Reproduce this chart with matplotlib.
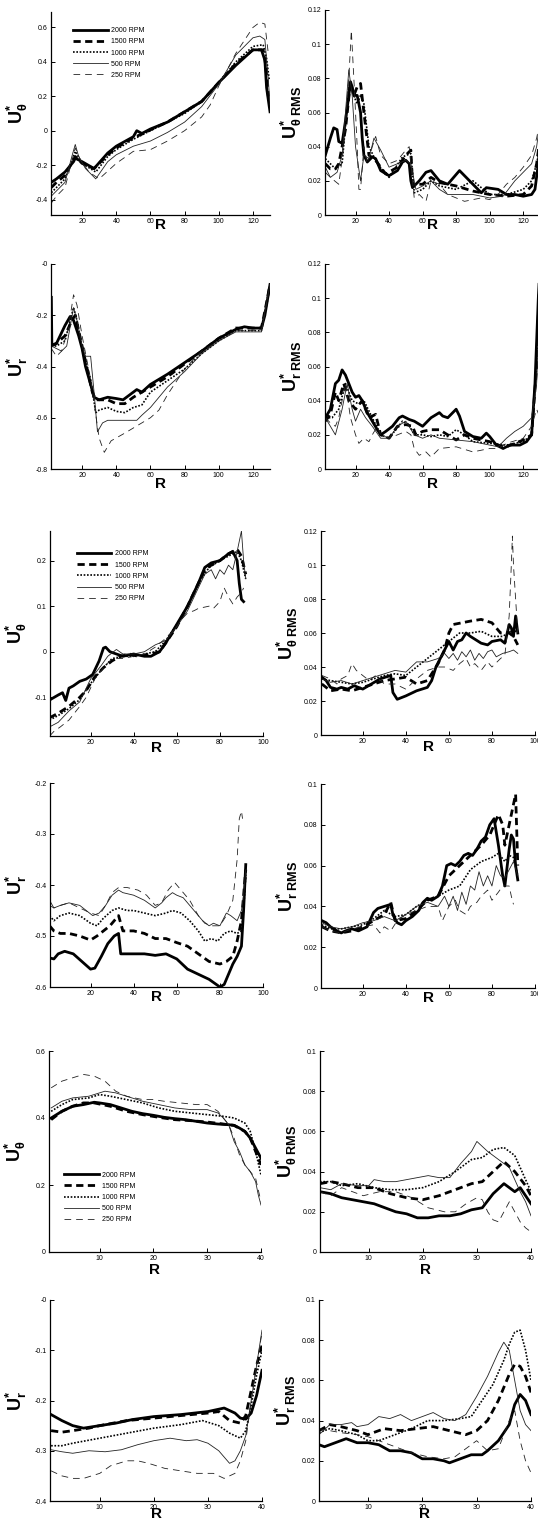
import numpy as np
import matplotlib
matplotlib.use('Agg')
import matplotlib.pyplot as plt
from matplotlib.ticker import FuncFormatter

plt.rcParams['font.family'] = ['Liberation Sans', 'DejaVu Sans']
plt.rcParams['mathtext.fontset'] = 'custom'
plt.rcParams['mathtext.rm'] = 'Liberation Sans'
plt.rcParams['mathtext.it'] = 'Liberation Sans:italic'
plt.rcParams['mathtext.bf'] = 'Liberation Sans:bold'
plt.rcParams['axes.unicode_minus'] = False

rpm = ['2000 RPM', '1500 RPM', '1000 RPM', '500 RPM', '250 RPM']

# ---- case A (R up to 130) ----
uthA_2000 = [(2, -0.30), (5, -0.28), (10, -0.24), (15, -0.18), (16, -0.16), (20, -0.18), (27, -0.22),
             (35, -0.13), (40, -0.09), (50, -0.035), (52, 0.0), (55, -0.016), (60, 0.01), (70, 0.05),
             (80, 0.11), (90, 0.17), (100, 0.28), (110, 0.38), (120, 0.47), (125, 0.47), (127, 0.41),
             (128, 0.25), (130, 0.11)]
uthA_1500 = [(2, -0.33), (5, -0.30), (10, -0.26), (16, -0.15), (20, -0.19), (27, -0.22), (35, -0.14),
             (40, -0.10), (50, -0.04), (55, -0.02), (60, 0.005), (70, 0.05), (80, 0.11), (90, 0.17),
             (100, 0.28), (110, 0.39), (120, 0.47), (126, 0.47), (127.5, 0.38), (129, 0.2)]
uthA_1000 = [(2, -0.36), (5, -0.33), (10, -0.28), (16, -0.12), (20, -0.19), (28, -0.24), (35, -0.15),
             (40, -0.11), (50, -0.05), (60, 0.0), (70, 0.05), (80, 0.10), (90, 0.17), (100, 0.28),
             (110, 0.40), (120, 0.49), (126, 0.50), (128, 0.42), (129.5, 0.3)]
uthA_500 = [(2, -0.38), (5, -0.35), (10, -0.30), (14, -0.15), (16, -0.08), (18, -0.15), (22, -0.22),
            (28, -0.28), (35, -0.18), (40, -0.14), (50, -0.09), (60, -0.06), (70, -0.01), (80, 0.05),
            (90, 0.14), (100, 0.27), (110, 0.44), (120, 0.54), (124, 0.55), (127, 0.53), (129, 0.3),
            (130, 0.15)]
uthA_250 = [(2, -0.42), (5, -0.38), (10, -0.33), (16, -0.10), (19, -0.17), (24, -0.24), (30, -0.28),
            (40, -0.19), (50, -0.12), (60, -0.11), (70, -0.06), (80, 0.0), (90, 0.08), (95, 0.15),
            (100, 0.26), (110, 0.45), (120, 0.60), (124, 0.63), (127, 0.62), (129, 0.45)]

uthrmsA_2000 = [(2, 0.035), (5, 0.045), (7, 0.051), (9, 0.05), (10, 0.043), (12, 0.042), (14, 0.055),
                (16, 0.07), (17, 0.078), (18, 0.075), (19, 0.07), (21, 0.07), (23, 0.06), (24, 0.045),
                (25, 0.035), (27, 0.031), (30, 0.034), (32, 0.033), (35, 0.026), (40, 0.023), (45, 0.026),
                (48, 0.031), (50, 0.032), (52, 0.030), (53, 0.020), (54, 0.016), (58, 0.02), (62, 0.025),
                (65, 0.026), (70, 0.02), (75, 0.018), (82, 0.026), (88, 0.02), (92, 0.016), (95, 0.013),
                (98, 0.016), (105, 0.015), (110, 0.012), (115, 0.012), (120, 0.011), (125, 0.012),
                (127, 0.015), (129, 0.03), (130, 0.045)]
uthrmsA_1500 = [(2, 0.030), (5, 0.027), (8, 0.027), (10, 0.03), (14, 0.05), (17, 0.078), (19, 0.07),
                (21, 0.075), (23, 0.077), (25, 0.06), (28, 0.035), (32, 0.032), (38, 0.024), (45, 0.028),
                (50, 0.035), (53, 0.038), (54, 0.018), (60, 0.018), (65, 0.022), (70, 0.019), (80, 0.017),
                (90, 0.014), (100, 0.012), (110, 0.011), (120, 0.012), (125, 0.017), (128, 0.03),
                (130, 0.045)]
uthrmsA_1000 = [(2, 0.033), (8, 0.027), (12, 0.03), (16, 0.075), (18, 0.072), (21, 0.065), (23, 0.07),
                (25, 0.065), (28, 0.04), (33, 0.03), (40, 0.022), (48, 0.034), (53, 0.036), (55, 0.013),
                (60, 0.015), (65, 0.02), (70, 0.017), (80, 0.015), (90, 0.02), (100, 0.012), (110, 0.012),
                (120, 0.015), (125, 0.02), (128, 0.03), (130, 0.04)]
uthrmsA_500 = [(2, 0.028), (5, 0.022), (9, 0.025), (12, 0.035), (16, 0.085), (18, 0.07), (20, 0.04),
               (23, 0.02), (25, 0.035), (28, 0.033), (31, 0.045), (35, 0.038), (40, 0.028), (45, 0.03),
               (50, 0.032), (53, 0.03), (56, 0.015), (60, 0.017), (65, 0.02), (70, 0.015), (75, 0.012),
               (80, 0.012), (90, 0.012), (100, 0.01), (108, 0.011), (115, 0.02), (120, 0.025),
               (125, 0.03), (128, 0.04), (130, 0.055)]
uthrmsA_250 = [(2, 0.025), (5, 0.022), (10, 0.018), (13, 0.04), (16, 0.08), (17.5, 0.108), (19, 0.08),
               (21, 0.04), (22, 0.015), (23, 0.015), (25, 0.04), (27, 0.03), (30, 0.04), (32, 0.046),
               (35, 0.035), (40, 0.03), (45, 0.032), (50, 0.038), (52, 0.04), (55, 0.01), (58, 0.012),
               (62, 0.008), (65, 0.02), (70, 0.018), (75, 0.012), (85, 0.008), (95, 0.01), (100, 0.009),
               (105, 0.012), (110, 0.018), (115, 0.022), (120, 0.028), (125, 0.035), (128, 0.045),
               (130, 0.055)]

urA_2000 = [(2, -0.13), (2.3, -0.316), (5, -0.31), (10, -0.24), (13, -0.205), (15, -0.22), (18, -0.28),
            (20, -0.33), (22, -0.40), (25, -0.47), (27, -0.52), (30, -0.53), (35, -0.52), (40, -0.525),
            (44, -0.53), (48, -0.51), (52, -0.49), (55, -0.50), (60, -0.47), (70, -0.43), (80, -0.385),
            (90, -0.34), (100, -0.29), (110, -0.255), (115, -0.245), (120, -0.25), (125, -0.25),
            (127, -0.20), (129, -0.12), (130, -0.08)]
urA_1500 = [(2, -0.32), (5, -0.31), (10, -0.28), (14, -0.22), (16, -0.20), (18, -0.26), (22, -0.38),
            (26, -0.50), (28, -0.53), (35, -0.53), (40, -0.545), (45, -0.545), (50, -0.52), (55, -0.50),
            (60, -0.48), (70, -0.44), (80, -0.39), (90, -0.34), (100, -0.29), (110, -0.25), (120, -0.25),
            (125, -0.25), (128, -0.15), (130, -0.08)]
urA_1000 = [(2, -0.32), (5, -0.32), (10, -0.30), (15, -0.17), (17, -0.22), (20, -0.33), (25, -0.45),
            (28, -0.58), (30, -0.57), (35, -0.56), (40, -0.575), (45, -0.58), (50, -0.56), (55, -0.55),
            (60, -0.50), (70, -0.455), (80, -0.41), (90, -0.35), (100, -0.30), (110, -0.26), (120, -0.26),
            (125, -0.26), (128, -0.15), (130, -0.08)]
urA_500 = [(2, -0.32), (5, -0.33), (8, -0.34), (11, -0.32), (15, -0.17), (17, -0.22), (20, -0.32),
           (22, -0.36), (25, -0.36), (27, -0.50), (29, -0.655), (32, -0.62), (35, -0.61), (45, -0.61),
           (52, -0.61), (55, -0.59), (60, -0.56), (65, -0.52), (70, -0.48), (80, -0.42), (90, -0.35),
           (100, -0.30), (110, -0.265), (120, -0.265), (125, -0.265), (128, -0.15), (130, -0.08)]
urA_250 = [(2, -0.33), (5, -0.36), (8, -0.34), (12, -0.25), (15, -0.12), (17, -0.16), (20, -0.28),
           (25, -0.45), (30, -0.68), (33, -0.735), (37, -0.69), (45, -0.66), (55, -0.62), (60, -0.60),
           (65, -0.57), (70, -0.51), (75, -0.46), (80, -0.41), (90, -0.34), (100, -0.30), (110, -0.26),
           (120, -0.26), (125, -0.26), (128, -0.15), (130, -0.08)]

urrmsA_2000 = [(2, 0.030), (5, 0.035), (8, 0.05), (10, 0.052), (12, 0.058), (14, 0.055), (16, 0.05),
               (18, 0.045), (20, 0.042), (22, 0.043), (24, 0.04), (27, 0.033), (30, 0.028), (33, 0.023),
               (35, 0.02), (38, 0.022), (42, 0.025), (46, 0.03), (48, 0.031), (52, 0.029), (55, 0.028),
               (60, 0.025), (65, 0.03), (70, 0.033), (72, 0.031), (75, 0.03), (78, 0.033), (80, 0.035),
               (82, 0.031), (85, 0.022), (90, 0.019), (95, 0.018), (98, 0.021), (100, 0.019),
               (104, 0.014), (108, 0.012), (112, 0.014), (118, 0.014), (122, 0.016), (125, 0.02),
               (127, 0.05), (129, 0.1), (130, 0.12)]
urrmsA_1500 = [(2, 0.028), (5, 0.032), (8, 0.045), (10, 0.04), (13, 0.05), (16, 0.04), (20, 0.035),
               (24, 0.04), (28, 0.03), (32, 0.032), (35, 0.02), (40, 0.018), (45, 0.025), (50, 0.026),
               (54, 0.025), (56, 0.02), (60, 0.022), (65, 0.023), (70, 0.023), (75, 0.02), (80, 0.017),
               (85, 0.02), (90, 0.018), (100, 0.016), (105, 0.014), (110, 0.013), (120, 0.017),
               (125, 0.02), (128, 0.06), (130, 0.12)]
urrmsA_1000 = [(2, 0.03), (6, 0.03), (10, 0.035), (14, 0.05), (18, 0.04), (22, 0.038), (25, 0.04),
               (30, 0.03), (35, 0.02), (40, 0.018), (48, 0.028), (52, 0.026), (55, 0.02), (60, 0.02),
               (65, 0.019), (70, 0.02), (75, 0.019), (80, 0.023), (85, 0.02), (90, 0.016), (100, 0.015),
               (110, 0.014), (120, 0.016), (125, 0.02), (128, 0.06), (130, 0.12)]
urrmsA_500 = [(2, 0.03), (5, 0.025), (8, 0.02), (12, 0.035), (15, 0.05), (18, 0.035), (20, 0.028),
              (23, 0.035), (26, 0.03), (30, 0.025), (35, 0.018), (40, 0.018), (45, 0.025), (50, 0.028),
              (55, 0.02), (60, 0.018), (65, 0.02), (70, 0.018), (80, 0.017), (90, 0.016), (100, 0.014),
              (105, 0.013), (110, 0.018), (115, 0.022), (120, 0.025), (125, 0.03), (128, 0.05),
              (130, 0.1)]
urrmsA_250 = [(2, 0.03), (5, 0.027), (8, 0.025), (10, 0.03), (14, 0.05), (17, 0.03), (20, 0.02),
              (22, 0.015), (25, 0.018), (28, 0.016), (30, 0.02), (33, 0.025), (35, 0.02), (40, 0.018),
              (45, 0.02), (50, 0.022), (53, 0.02), (55, 0.012), (58, 0.008), (62, 0.01), (65, 0.007),
              (70, 0.012), (80, 0.013), (90, 0.01), (100, 0.012), (105, 0.012), (110, 0.015),
              (120, 0.018), (125, 0.025), (128, 0.035), (130, 0.03)]

# ---- case B (R up to ~92) ----
uthB_2000 = [(1, -0.106), (5, -0.095), (7, -0.09), (8.5, -0.107), (10, -0.08), (12, -0.075), (15, -0.065),
             (18, -0.06), (21, -0.05), (24, -0.02), (26, 0.008), (27, 0.01), (29, 0.0), (32, -0.005),
             (35, -0.01), (40, -0.005), (45, -0.01), (48, -0.01), (52, 0.0), (55, 0.02), (60, 0.06),
             (65, 0.1), (70, 0.15), (73, 0.185), (76, 0.195), (80, 0.20), (84, 0.215), (86, 0.22),
             (88, 0.2), (89, 0.15), (90, 0.115), (91, 0.11)]
uthB_1500 = [(1, -0.145), (5, -0.135), (10, -0.12), (15, -0.10), (18, -0.085), (22, -0.055), (26, -0.035),
             (30, -0.02), (34, -0.01), (38, -0.005), (42, -0.01), (48, -0.005), (52, 0.0), (55, 0.02),
             (60, 0.055), (65, 0.1), (70, 0.15), (73, 0.18), (76, 0.19), (80, 0.20), (84, 0.215),
             (88, 0.225), (90, 0.21), (91, 0.19), (92, 0.17)]
uthB_1000 = [(1, -0.15), (5, -0.14), (10, -0.125), (15, -0.105), (20, -0.07), (25, -0.04), (30, -0.015),
             (35, -0.01), (40, -0.01), (45, -0.005), (50, 0.0), (55, 0.025), (60, 0.06), (65, 0.1),
             (70, 0.15), (75, 0.185), (80, 0.2), (84, 0.21), (88, 0.22), (90, 0.2), (92, 0.16)]
uthB_500 = [(1, -0.165), (5, -0.155), (10, -0.13), (15, -0.11), (20, -0.06), (25, -0.03), (28, -0.01),
            (32, 0.005), (35, -0.005), (40, -0.005), (45, 0.0), (50, 0.015), (55, 0.025), (60, 0.055),
            (65, 0.09), (70, 0.14), (73, 0.17), (76, 0.18), (78, 0.16), (80, 0.18), (82, 0.17),
            (84, 0.19), (86, 0.18), (88, 0.22), (90, 0.265), (91, 0.2), (92, 0.16)]
uthB_250 = [(1, -0.185), (3, -0.175), (6, -0.165), (10, -0.15), (15, -0.12), (18, -0.10), (22, -0.06),
            (26, -0.035), (30, -0.015), (35, -0.015), (40, -0.01), (45, -0.005), (50, 0.01), (55, 0.03),
            (60, 0.055), (62, 0.07), (65, 0.085), (68, 0.09), (70, 0.095), (75, 0.1), (77, 0.095),
            (80, 0.11), (82, 0.14), (84, 0.12), (86, 0.105), (88, 0.12), (90, 0.13), (91, 0.14)]

uthrmsB_2000 = [(1, 0.034), (3, 0.032), (5, 0.028), (8, 0.027), (10, 0.028), (13, 0.027), (16, 0.029),
                (20, 0.027), (24, 0.03), (28, 0.033), (33, 0.035), (34, 0.025), (36, 0.021), (40, 0.023),
                (45, 0.026), (50, 0.028), (52, 0.032), (54, 0.04), (58, 0.05), (60, 0.055), (62, 0.05),
                (64, 0.055), (66, 0.056), (68, 0.06), (70, 0.058), (75, 0.054), (78, 0.053), (80, 0.055),
                (84, 0.056), (86, 0.054), (88, 0.065), (89, 0.063), (90, 0.058), (91, 0.07), (92, 0.06)]
uthrmsB_1500 = [(1, 0.03), (5, 0.026), (10, 0.027), (15, 0.026), (20, 0.028), (25, 0.03), (30, 0.032),
                (35, 0.033), (40, 0.034), (45, 0.03), (50, 0.032), (55, 0.042), (58, 0.05), (60, 0.06),
                (62, 0.065), (66, 0.066), (70, 0.067), (75, 0.068), (80, 0.066), (84, 0.06), (88, 0.06),
                (90, 0.058), (92, 0.053)]
uthrmsB_1000 = [(1, 0.033), (5, 0.032), (10, 0.031), (15, 0.03), (20, 0.031), (25, 0.033), (30, 0.035),
                (35, 0.036), (40, 0.035), (45, 0.04), (50, 0.045), (55, 0.05), (60, 0.055), (65, 0.06),
                (70, 0.06), (75, 0.061), (80, 0.058), (85, 0.058), (90, 0.062), (92, 0.06)]
uthrmsB_500 = [(1, 0.033), (5, 0.031), (10, 0.032), (15, 0.03), (20, 0.032), (25, 0.034), (30, 0.036),
               (35, 0.038), (40, 0.037), (45, 0.043), (50, 0.043), (55, 0.045), (58, 0.048), (60, 0.045),
               (62, 0.048), (64, 0.044), (66, 0.049), (68, 0.046), (70, 0.05), (72, 0.044), (74, 0.048),
               (76, 0.045), (78, 0.049), (80, 0.05), (82, 0.046), (85, 0.048), (88, 0.049), (90, 0.05),
               (92, 0.048)]
uthrmsB_250 = [(1, 0.035), (5, 0.033), (8, 0.03), (10, 0.033), (13, 0.035), (15, 0.042), (17, 0.038),
               (20, 0.035), (23, 0.032), (26, 0.035), (30, 0.03), (35, 0.03), (40, 0.027), (45, 0.033),
               (50, 0.038), (55, 0.04), (58, 0.04), (62, 0.038), (65, 0.042), (68, 0.045), (70, 0.04),
               (72, 0.042), (75, 0.038), (78, 0.043), (80, 0.04), (84, 0.045), (86, 0.047), (88, 0.07),
               (89, 0.1), (89.5, 0.117), (90, 0.1), (91, 0.08), (92, 0.06)]

urB_2000 = [(1, -0.543), (3, -0.545), (5, -0.535), (8, -0.53), (12, -0.535), (16, -0.55), (20, -0.565),
            (22, -0.563), (25, -0.54), (28, -0.515), (31, -0.5), (33, -0.495), (34, -0.535), (40, -0.535),
            (45, -0.535), (50, -0.538), (55, -0.535), (60, -0.545), (65, -0.565), (70, -0.575),
            (75, -0.585), (80, -0.6), (82, -0.595), (84, -0.575), (86, -0.555), (88, -0.54), (90, -0.52),
            (91, -0.45), (92, -0.36)]
urB_1500 = [(1, -0.48), (3, -0.49), (6, -0.495), (10, -0.495), (15, -0.5), (20, -0.508), (23, -0.5),
            (26, -0.49), (29, -0.48), (32, -0.465), (33, -0.46), (35, -0.49), (40, -0.49), (45, -0.495),
            (50, -0.505), (55, -0.505), (60, -0.513), (65, -0.52), (70, -0.535), (75, -0.55),
            (80, -0.555), (83, -0.55), (86, -0.54), (88, -0.51), (90, -0.47), (91, -0.42), (92, -0.37)]
urB_1000 = [(1, -0.46), (3, -0.47), (6, -0.46), (10, -0.455), (15, -0.46), (20, -0.475), (23, -0.48),
            (26, -0.465), (30, -0.45), (33, -0.445), (37, -0.45), (40, -0.45), (45, -0.455), (50, -0.46),
            (55, -0.455), (58, -0.45), (62, -0.455), (66, -0.47), (70, -0.49), (73, -0.51), (76, -0.505),
            (79, -0.51), (82, -0.495), (85, -0.49), (88, -0.495), (90, -0.49), (91, -0.45), (92, -0.38)]
urB_500 = [(1, -0.43), (3, -0.445), (6, -0.44), (10, -0.435), (15, -0.44), (18, -0.45), (21, -0.46),
           (24, -0.455), (27, -0.44), (30, -0.42), (33, -0.41), (35, -0.415), (40, -0.42), (45, -0.43),
           (50, -0.445), (53, -0.435), (55, -0.425), (58, -0.415), (60, -0.42), (63, -0.425),
           (66, -0.44), (70, -0.46), (72, -0.47), (75, -0.48), (77, -0.475), (80, -0.48), (83, -0.455),
           (85, -0.46), (88, -0.47), (90, -0.45), (91, -0.42), (92, -0.37)]
urB_250 = [(1, -0.44), (3, -0.445), (6, -0.44), (10, -0.435), (15, -0.445), (20, -0.455), (24, -0.46),
           (27, -0.44), (30, -0.415), (33, -0.405), (37, -0.405), (42, -0.41), (46, -0.42), (50, -0.44),
           (53, -0.435), (56, -0.41), (59, -0.395), (62, -0.41), (66, -0.43), (70, -0.46), (73, -0.475),
           (76, -0.48), (80, -0.48), (83, -0.46), (86, -0.43), (88, -0.35), (89, -0.27), (90, -0.255),
           (90.5, -0.27)]

urrmsB_2000 = [(1, 0.033), (3, 0.032), (5, 0.03), (8, 0.028), (10, 0.027), (12, 0.028), (15, 0.029),
               (18, 0.028), (20, 0.029), (22, 0.03), (25, 0.037), (27, 0.039), (30, 0.04), (33, 0.041),
               (34, 0.036), (36, 0.032), (38, 0.031), (40, 0.033), (43, 0.035), (46, 0.038), (48, 0.042),
               (50, 0.044), (52, 0.043), (55, 0.045), (57, 0.05), (59, 0.06), (61, 0.061), (63, 0.06),
               (65, 0.062), (67, 0.065), (69, 0.066), (71, 0.065), (73, 0.068), (75, 0.072), (77, 0.074),
               (79, 0.08), (81, 0.083), (83, 0.07), (85, 0.055), (86, 0.05), (88, 0.068), (89, 0.075),
               (90, 0.073), (91, 0.06), (92, 0.053)]
urrmsB_1500 = [(1, 0.03), (5, 0.028), (10, 0.027), (15, 0.028), (20, 0.03), (25, 0.033), (30, 0.036),
               (33, 0.042), (35, 0.033), (40, 0.034), (45, 0.038), (50, 0.043), (55, 0.045), (60, 0.055),
               (65, 0.06), (70, 0.065), (75, 0.07), (79, 0.075), (81, 0.08), (83, 0.085), (85, 0.08),
               (86, 0.07), (88, 0.08), (90, 0.09), (91, 0.095), (92, 0.06)]
urrmsB_1000 = [(1, 0.031), (5, 0.029), (10, 0.029), (15, 0.03), (20, 0.031), (25, 0.034), (30, 0.038),
               (35, 0.035), (40, 0.036), (45, 0.04), (50, 0.043), (55, 0.045), (60, 0.048), (65, 0.05),
               (70, 0.058), (75, 0.062), (80, 0.064), (83, 0.066), (86, 0.062), (88, 0.065), (90, 0.064),
               (92, 0.055)]
urrmsB_500 = [(1, 0.032), (5, 0.03), (10, 0.029), (15, 0.03), (20, 0.032), (25, 0.033), (30, 0.035),
              (35, 0.033), (40, 0.036), (45, 0.04), (50, 0.042), (55, 0.04), (58, 0.045), (60, 0.04),
              (62, 0.045), (64, 0.038), (66, 0.047), (68, 0.041), (70, 0.05), (72, 0.048), (74, 0.057),
              (76, 0.05), (78, 0.055), (80, 0.05), (82, 0.06), (84, 0.055), (86, 0.054), (88, 0.058),
              (90, 0.062), (92, 0.055)]
urrmsB_250 = [(1, 0.03), (5, 0.028), (10, 0.027), (15, 0.029), (20, 0.03), (25, 0.031), (28, 0.027),
              (30, 0.03), (33, 0.028), (36, 0.033), (40, 0.036), (45, 0.038), (50, 0.04), (55, 0.04),
              (57, 0.033), (60, 0.04), (63, 0.043), (65, 0.038), (68, 0.036), (70, 0.04), (73, 0.042),
              (75, 0.045), (78, 0.048), (80, 0.043), (83, 0.047), (85, 0.05), (88, 0.05), (89, 0.045),
              (90, 0.041)]

# ---- case C (R up to 40) ----
uthC_2000 = [(1, 0.40), (3, 0.42), (5, 0.435), (7, 0.44), (9, 0.447), (10, 0.445), (12, 0.44), (14, 0.43),
             (16, 0.42), (18, 0.413), (20, 0.408), (22, 0.402), (24, 0.398), (26, 0.395), (28, 0.39),
             (30, 0.385), (32, 0.382), (34, 0.38), (35, 0.378), (36, 0.37), (37, 0.36), (38, 0.34),
             (39, 0.31), (40, 0.28)]
uthC_1500 = [(1, 0.395), (3, 0.42), (5, 0.435), (7, 0.445), (9, 0.445), (12, 0.435), (15, 0.42), (18, 0.41),
             (21, 0.402), (24, 0.395), (27, 0.392), (30, 0.388), (33, 0.382), (35, 0.378), (37, 0.36),
             (38, 0.34), (39, 0.30), (40, 0.26)]
uthC_1000 = [(1, 0.42), (3, 0.44), (5, 0.455), (8, 0.46), (10, 0.47), (12, 0.465), (15, 0.455), (18, 0.445),
             (21, 0.43), (24, 0.42), (27, 0.415), (30, 0.41), (33, 0.405), (35, 0.4), (37, 0.385),
             (38, 0.36), (39, 0.30), (40, 0.23)]
uthC_500 = [(1, 0.43), (3, 0.45), (5, 0.46), (8, 0.465), (10, 0.475), (11, 0.48), (13, 0.475), (15, 0.465),
            (18, 0.45), (21, 0.44), (24, 0.43), (27, 0.425), (30, 0.425), (32, 0.415), (33, 0.40),
            (34, 0.38), (35, 0.33), (36, 0.30), (37, 0.26), (38, 0.24), (39, 0.21), (39.5, 0.17), (40, 0.14)]
uthC_250 = [(1, 0.49), (3, 0.51), (5, 0.52), (7, 0.53), (9, 0.525), (11, 0.51), (13, 0.48), (15, 0.465),
            (18, 0.455), (20, 0.455), (22, 0.45), (25, 0.445), (28, 0.44), (30, 0.44), (32, 0.42),
            (34, 0.38), (35, 0.34), (36, 0.29), (37, 0.26), (38, 0.24), (39, 0.22), (40, 0.15)]

uthrmsC_2000 = [(1, 0.03), (3, 0.029), (5, 0.027), (7, 0.026), (9, 0.025), (11, 0.024), (13, 0.022),
                (15, 0.02), (17, 0.019), (19, 0.017), (21, 0.017), (23, 0.018), (25, 0.018), (27, 0.019),
                (29, 0.021), (31, 0.022), (33, 0.029), (35, 0.034), (36, 0.032), (37, 0.03), (38, 0.032),
                (39, 0.028), (40, 0.024)]
uthrmsC_1500 = [(1, 0.034), (3, 0.035), (5, 0.034), (8, 0.032), (11, 0.032), (14, 0.029), (17, 0.027),
                (20, 0.026), (23, 0.028), (26, 0.031), (29, 0.034), (31, 0.035), (33, 0.04), (35, 0.045),
                (37, 0.04), (39, 0.033), (40, 0.028)]
uthrmsC_1000 = [(1, 0.035), (3, 0.035), (5, 0.033), (8, 0.034), (11, 0.032), (14, 0.031), (17, 0.031),
                (20, 0.032), (23, 0.035), (26, 0.04), (29, 0.046), (31, 0.047), (33, 0.051), (35, 0.052),
                (37, 0.048), (38, 0.042), (39, 0.036), (40, 0.03)]
uthrmsC_500 = [(1, 0.032), (3, 0.031), (5, 0.034), (8, 0.033), (10, 0.033), (11, 0.036), (13, 0.035),
               (15, 0.035), (17, 0.036), (19, 0.037), (21, 0.038), (23, 0.037), (25, 0.037), (27, 0.044),
               (29, 0.05), (30, 0.055), (32, 0.05), (34, 0.046), (36, 0.042), (38, 0.03), (39, 0.025),
               (40, 0.018)]
uthrmsC_250 = [(1, 0.03), (3, 0.028), (5, 0.032), (7, 0.03), (9, 0.028), (12, 0.03), (15, 0.03),
               (18, 0.027), (21, 0.022), (24, 0.02), (26, 0.02), (28, 0.024), (30, 0.027), (31, 0.026),
               (32, 0.02), (33, 0.016), (34, 0.015), (35, 0.02), (36, 0.025), (37, 0.02), (38, 0.015),
               (39, 0.012), (40, 0.01)]

urC_2000 = [(1, -0.228), (3, -0.24), (5, -0.25), (7, -0.255), (10, -0.25), (13, -0.245), (16, -0.238),
            (20, -0.232), (25, -0.228), (30, -0.222), (33, -0.215), (35, -0.225), (36, -0.235),
            (37, -0.237), (38, -0.225), (39, -0.19), (40, -0.14)]
urC_1500 = [(1, -0.26), (3, -0.263), (5, -0.26), (8, -0.255), (10, -0.25), (15, -0.24), (20, -0.235),
            (25, -0.23), (30, -0.225), (32, -0.222), (34, -0.24), (36, -0.245), (37, -0.23), (38, -0.18),
            (39, -0.13), (40, -0.09)]
urC_1000 = [(1, -0.29), (3, -0.29), (5, -0.285), (10, -0.275), (15, -0.265), (20, -0.255), (25, -0.248),
            (29, -0.24), (32, -0.25), (34, -0.265), (36, -0.275), (37, -0.26), (38, -0.21), (39, -0.15),
            (40, -0.1)]
urC_500 = [(1, -0.298), (3, -0.302), (5, -0.305), (8, -0.30), (11, -0.302), (14, -0.298), (17, -0.288),
           (20, -0.28), (23, -0.275), (26, -0.28), (28, -0.278), (30, -0.285), (32, -0.3), (34, -0.325),
           (35, -0.32), (36, -0.3), (37, -0.27), (38, -0.2), (39, -0.13), (40, -0.06)]
urC_250 = [(1, -0.34), (3, -0.35), (5, -0.355), (7, -0.355), (10, -0.345), (12, -0.33), (15, -0.32),
           (17, -0.32), (19, -0.325), (22, -0.335), (25, -0.34), (28, -0.345), (31, -0.345), (33, -0.355),
           (35, -0.345), (36, -0.32), (37, -0.28), (38, -0.2), (39, -0.13), (40, -0.065)]

urrmsC_2000 = [(1, 0.028), (2, 0.027), (4, 0.029), (6, 0.031), (8, 0.029), (10, 0.029), (12, 0.028),
               (14, 0.025), (16, 0.025), (18, 0.024), (20, 0.021), (22, 0.021), (24, 0.02), (25, 0.019),
               (27, 0.021), (29, 0.023), (31, 0.023), (32, 0.025), (34, 0.03), (36, 0.038), (37, 0.048),
               (38, 0.053), (39, 0.05), (40, 0.043)]
urrmsC_1500 = [(1, 0.035), (3, 0.038), (5, 0.037), (8, 0.035), (10, 0.033), (13, 0.036), (16, 0.035),
               (19, 0.036), (22, 0.037), (25, 0.035), (28, 0.033), (30, 0.035), (32, 0.04), (34, 0.05),
               (36, 0.063), (37, 0.068), (38, 0.067), (39, 0.062), (40, 0.054)]
urrmsC_1000 = [(1, 0.034), (3, 0.036), (5, 0.035), (8, 0.033), (10, 0.03), (12, 0.03), (15, 0.033),
               (18, 0.036), (21, 0.04), (24, 0.04), (27, 0.041), (29, 0.042), (31, 0.05), (33, 0.058),
               (35, 0.07), (36, 0.078), (37, 0.084), (38, 0.085), (39, 0.075), (40, 0.06)]
urrmsC_500 = [(1, 0.033), (3, 0.038), (5, 0.038), (7, 0.039), (8, 0.037), (10, 0.038), (12, 0.042),
              (14, 0.041), (16, 0.043), (18, 0.04), (20, 0.042), (22, 0.044), (24, 0.041), (26, 0.04),
              (28, 0.043), (30, 0.052), (32, 0.062), (34, 0.074), (35, 0.079), (36, 0.075), (37, 0.06),
              (38, 0.045), (39, 0.038), (40, 0.035)]
urrmsC_250 = [(1, 0.036), (3, 0.035), (5, 0.034), (8, 0.033), (10, 0.032), (12, 0.03), (15, 0.027),
              (18, 0.024), (21, 0.022), (24, 0.021), (26, 0.022), (28, 0.026), (30, 0.03), (32, 0.025),
              (34, 0.026), (36, 0.04), (37, 0.045), (38, 0.03), (39, 0.02), (40, 0.014)]

styles = [dict(color='black', lw=2.0, ls='-'),
          dict(color='black', lw=2.0, ls=(0, (2.6, 1.6))),
          dict(color='black', lw=1.2, ls=(0, (1, 1))),
          dict(color='#222222', lw=0.6, ls='-'),
          dict(color='#222222', lw=0.6, ls=(0, (8, 6)))]

W, H = 538, 1523
fig = plt.figure(figsize=(W / 100, H / 100), dpi=100)

lab_uth = r'$\mathbf{U^{*}_{\theta}}$'
lab_uthrms = r'$\mathbf{U^{*}_{\theta\ RMS}}$'
lab_ur = r'$\mathbf{U^{*}_{r}}$'
lab_urrms = r'$\mathbf{U^{*}_{r\ RMS}}$'

fmt = FuncFormatter(lambda v, p: '%g' % round(v, 4))


def panel(box, curves, xlim, ylim, xt, yt, ylabel, ylab_x, rgap, legend=None):
    l, t, r, b = box
    ax = fig.add_axes([l / W, 1 - b / H, (r - l) / W, (b - t) / H])
    for c, st in zip(curves, styles):
        d = np.array(c).T
        ax.plot(d[0], d[1], **st)
    ax.set_xlim(*xlim)
    ax.set_ylim(*ylim)
    ax.set_xticks(xt)
    ax.set_yticks(yt)
    ax.xaxis.set_major_formatter(fmt)
    ax.yaxis.set_major_formatter(fmt)
    for s in ['top', 'right']:
        ax.spines[s].set_visible(False)
    for s in ['left', 'bottom']:
        ax.spines[s].set_linewidth(0.9)
    ax.tick_params(direction='in', length=3, width=0.7, labelsize=5.0, pad=2.5)
    ax.set_xlabel('R', fontsize=11, fontweight='bold')
    ax.xaxis.set_label_coords(0.5, -rgap / (b - t))
    ax.set_ylabel(ylabel, fontsize=13)
    ax.yaxis.set_label_coords((ylab_x - l) / (r - l), 0.5)
    if legend is not None:
        hs = [plt.Line2D([], [], **st) for st in styles]
        ax.legend(hs, rpm, loc='upper left', bbox_to_anchor=legend, frameon=False,
                  fontsize=5.0, handlelength=5.0, handletextpad=0.5, labelspacing=0.6,
                  borderaxespad=0, borderpad=0)
    return ax


# row 1
panel((51, 12, 270, 215), [uthA_2000, uthA_1500, uthA_1000, uthA_500, uthA_250],
      (1.8, 130), (-0.49, 0.69), range(20, 121, 20), np.arange(-0.4, 0.61, 0.2), lab_uth, 30, 3,
      legend=(0.10, 0.925))
panel((325, 10, 540, 215), [uthrmsA_2000, uthrmsA_1500, uthrmsA_1000, uthrmsA_500, uthrmsA_250],
      (1.8, 130), (0, 0.12), range(20, 121, 20), np.arange(0, 0.121, 0.02), lab_uthrms, 304, 3)
# row 2
panel((51, 264, 270, 469), [urA_2000, urA_1500, urA_1000, urA_500, urA_250],
      (1.8, 130), (-0.8, 0), range(20, 121, 20), np.arange(-0.8, 0.01, 0.2), lab_ur, 30, 8)
panel((325, 264, 540, 469), [urrmsA_2000, urrmsA_1500, urrmsA_1000, urrmsA_500, urrmsA_250],
      (1.8, 130), (0, 0.12), range(20, 121, 20), np.arange(0, 0.121, 0.02), lab_urrms, 304, 8)
# row 3
panel((50, 531, 263, 736), [uthB_2000, uthB_1500, uthB_1000, uthB_500, uthB_250],
      (1.2, 100), (-0.185, 0.265), range(20, 101, 20), np.arange(-0.1, 0.21, 0.1), lab_uth, 29, 5,
      legend=(0.125, 0.905))
panel((321, 531, 535, 735), [uthrmsB_2000, uthrmsB_1500, uthrmsB_1000, uthrmsB_500, uthrmsB_250],
      (0.6, 100), (0, 0.12), range(20, 101, 20), np.arange(0, 0.121, 0.02), lab_uthrms, 300, 5)
# row 4
panel((50, 783, 263, 987), [urB_2000, urB_1500, urB_1000, urB_500, urB_250],
      (1.2, 100), (-0.6, -0.2), range(20, 101, 20), np.arange(-0.6, -0.19, 0.1), lab_ur, 29, 3)
panel((321, 784, 535, 988), [urrmsB_2000, urrmsB_1500, urrmsB_1000, urrmsB_500, urrmsB_250],
      (0.6, 100), (0, 0.1), range(20, 101, 20), np.arange(0, 0.101, 0.02), lab_urrms, 300, 3)
# row 5
panel((49, 1051, 261, 1252), [uthC_2000, uthC_1500, uthC_1000, uthC_500, uthC_250],
      (0.6, 40), (0, 0.6), range(10, 41, 10), np.arange(0, 0.61, 0.2), lab_uth, 28, 11,
      legend=(0.07, 0.40))
panel((320, 1051, 531, 1252), [uthrmsC_2000, uthrmsC_1500, uthrmsC_1000, uthrmsC_500, uthrmsC_250],
      (1.0, 40), (0, 0.1), range(10, 41, 10), np.arange(0, 0.101, 0.02), lab_uthrms, 299, 11)
# row 6
panel((50, 1300, 262, 1501), [urC_2000, urC_1500, urC_1000, urC_500, urC_250],
      (0.8, 40), (-0.4, 0), range(10, 41, 10), np.arange(-0.4, 0.01, 0.1), lab_ur, 29, 6)
panel((319, 1300, 531, 1501), [urrmsC_2000, urrmsC_1500, urrmsC_1000, urrmsC_500, urrmsC_250],
      (1.0, 40), (0, 0.1), range(10, 41, 10), np.arange(0, 0.101, 0.02), lab_urrms, 298, 6)

fig.savefig('out.png', dpi=100)
